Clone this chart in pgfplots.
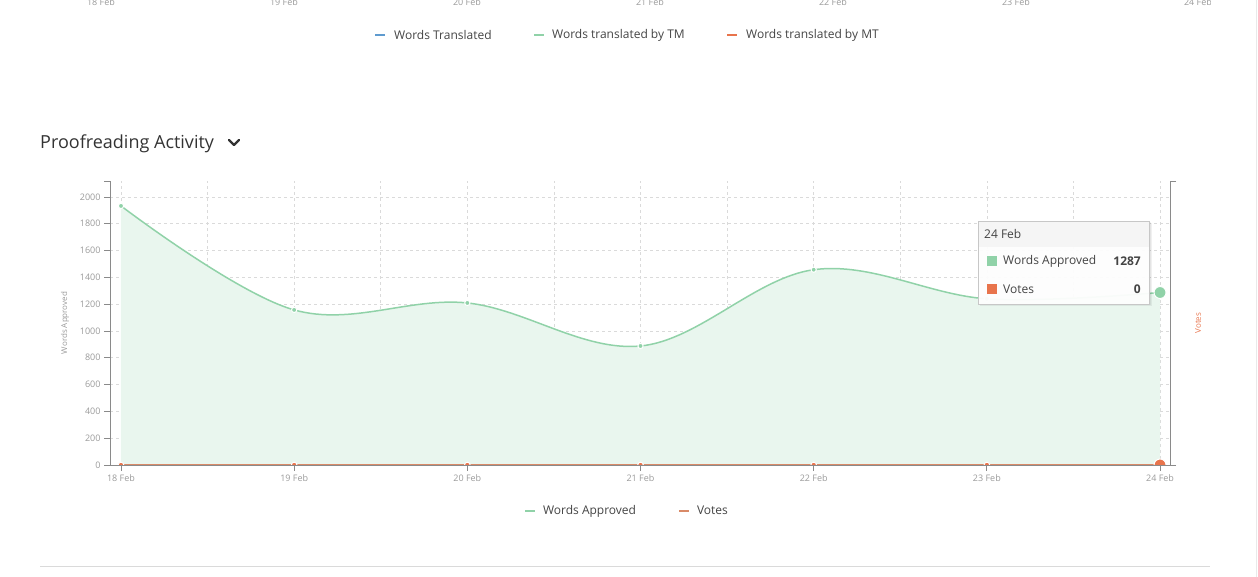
\documentclass[border=0pt]{standalone}
\usepackage{fontspec}
\setmainfont{Open Sans}
\usepackage{pgfplots}
\pgfplotsset{compat=1.18}

\definecolor{approved}{HTML}{90D2A8}
\definecolor{approvedfill}{HTML}{E9F6EE}
\definecolor{votes}{HTML}{E8744C}
\definecolor{votesline}{HTML}{D98A68}
\definecolor{translated}{HTML}{5F9BCF}
\definecolor{gridgray}{HTML}{DADADA}
\definecolor{axisgray}{HTML}{8A8A8A}
\definecolor{labelgray}{HTML}{9A9A9A}
\definecolor{textdark}{HTML}{444444}
\definecolor{titledark}{HTML}{333333}
\newcommand\fs[1]{\fontsize{#1pt}{#1pt}\selectfont}

\begin{document}
\begin{tikzpicture}
\path[use as bounding box] (0pt,0pt) rectangle (1258pt,577pt);

% --- what is left of the chart above (cut off at the top)
\begin{scope}[x=1pt,y=1pt]
\begin{scope}
\clip (0,0) rectangle (1210,577);
\foreach \x/\d in {101/18,284/19,467/20,650/21,833/22,1016/23,1198/24}
  \node[font=\fs{9}, text=labelgray, anchor=base, inner sep=0pt] at (\x,571) {\d\ Feb};
\end{scope}
\draw[translated, line width=2pt] (375,542) -- (385,542);
\node[font=\fs{12}, text=textdark, anchor=west, inner sep=0pt] at (394,542) {Words Translated};
\draw[approved, line width=2pt] (534,542) -- (544,542);
\node[font=\fs{12}, text=textdark, anchor=west, inner sep=0pt] at (552,542) {Words translated by TM};
\draw[votes, line width=2pt] (727,542) -- (737,542);
\node[font=\fs{12}, text=textdark, anchor=west, inner sep=0pt] at (746,542) {Words translated by MT};

% --- title
\node[font=\fs{18}, text=titledark, anchor=base west, inner sep=0pt] at (40,428) {Proofreading Activity};
\draw[titledark, line width=2.2pt, line cap=round, line join=round] (229,437) -- (234,432) -- (239,437);

% separator and page edge
\draw[gridgray, line width=1pt] (40,10) -- (1210,10);
\draw[gridgray!60, line width=1pt] (1256.5,0) -- (1256.5,577);
\end{scope}

\begin{axis}[
  at={(110pt,112pt)}, anchor=south west,
  scale only axis, width=1060pt, height=284pt,
  xmin=-0.0635, xmax=6.0577, ymin=0, ymax=2119,
  axis x line*=bottom, axis y line*=left,
  x axis line style={-}, y axis line style={-},
  axis line style={draw=axisgray, line width=0.8pt},
  tick align=outside, major tick length=6pt,
  tick style={draw=axisgray, line width=0.8pt},
  xtick={0,...,6},
  xticklabels={18 Feb,19 Feb,20 Feb,21 Feb,22 Feb,23 Feb,24 Feb},
  minor x tick num=1, minor tick length=0pt,
  ytick={0,200,...,2000},
  extra y ticks={2119}, extra y tick labels={},
  extra y tick style={grid=none},
  grid=both,
  major grid style={draw=gridgray, dash pattern=on 3pt off 3pt, line width=0.6pt},
  minor grid style={draw=gridgray, dash pattern=on 3pt off 3pt, line width=0.6pt},
  ticklabel style={font=\fs{9}, text=labelgray},
  /pgf/number format/assume math mode=true,
  /pgf/number format/set thousands separator={},
  ylabel={Words Approved},
  ylabel style={at={(axis description cs:-0.0425,0.5)}, anchor=center, font=\fs{8}, text=labelgray},
  clip marker paths=true,
  legend columns=2,
  legend style={at={(axis description cs:0.4877,-0.162)}, anchor=center, draw=none, fill=none,
    font=\fs{12}, text=textdark,
    /tikz/every even column/.append style={column sep=40pt}},
  legend image code/.code={%
    \draw[#1, mark=none, line width=2pt] (0pt,0pt) -- (10pt,0pt);
    \path[draw=none] (0pt,0pt) -- (16pt,0pt);},
]
\addplot[draw=none, fill=approvedfill, smooth, tension=0.6, forget plot]
  coordinates {(0,1933) (1,1157) (2,1209) (3,888) (4,1457) (5,1240) (6,1287)} \closedcycle;
\addplot[approved, line width=1.5pt, smooth, tension=0.6,
  mark=*, mark size=2.6pt, mark options={fill=approved, draw=white, line width=1pt}]
  coordinates {(0,1933) (1,1157) (2,1209) (3,888) (4,1457) (5,1240) (6,1287)};
\addlegendentry{Words Approved}
\addplot[votesline, line width=1.5pt,
  mark=*, mark size=2.8pt, mark options={fill=votes, draw=white, line width=1pt}]
  coordinates {(0,0) (1,0) (2,0) (3,0) (4,0) (5,0) (6,0)};
\addlegendentry{Votes}
% hovered points
\addplot[only marks, mark=*, mark size=6pt, mark options={fill=approved, draw=white, line width=1pt}, forget plot]
  coordinates {(6,1287)};
\addplot[only marks, mark=*, mark size=6pt, mark options={fill=votes, draw=white, line width=1pt}, forget plot]
  coordinates {(6,0)};
\end{axis}

\begin{axis}[
  at={(110pt,112pt)}, anchor=south west,
  scale only axis, width=1060pt, height=284pt,
  xmin=-0.0635, xmax=6.0577, ymin=0, ymax=1,
  axis x line=none, axis y line*=right, y axis line style={-},
  axis line style={draw=axisgray, line width=0.8pt},
  tick align=outside, major tick length=6pt,
  tick style={draw=axisgray, line width=0.8pt},
  ytick={0,1}, yticklabels={},
  ylabel={Votes},
  ylabel style={at={(axis description cs:1.0264,0.5)}, anchor=center, font=\fs{8}, text=votes},
]
\addplot[draw=none] coordinates {(0,0)};
\end{axis}

% --- tooltip for 24 Feb
\begin{scope}[x=1pt,y=1pt]
\fill[black, opacity=0.06] (980,271) rectangle (1152,354);
\fill[black, opacity=0.05] (979,272) rectangle (1151,355);
\fill[white, opacity=0.95] (978,273) rectangle (1149,356);
\fill[black!4] (978,330) rectangle (1149,356);
\draw[black!22, line width=0.6pt] (978,273) rectangle (1149,356);
\node[font=\fs{12}, text=textdark, anchor=west, inner sep=0pt] at (984,343) {24 Feb};
\fill[approved] (987,311) rectangle (997,321);
\node[font=\fs{12}, text=textdark, anchor=west, inner sep=0pt] at (1003,316) {Words Approved};
\node[font=\fs{12}\bfseries, text=textdark, anchor=east, inner sep=0pt] at (1141,316) {1287};
\fill[votes] (987,283) rectangle (997,293);
\node[font=\fs{12}, text=textdark, anchor=west, inner sep=0pt] at (1003,288) {Votes};
\node[font=\fs{12}\bfseries, text=textdark, anchor=east, inner sep=0pt] at (1141,288) {0};
\end{scope}
\end{tikzpicture}
\end{document}
